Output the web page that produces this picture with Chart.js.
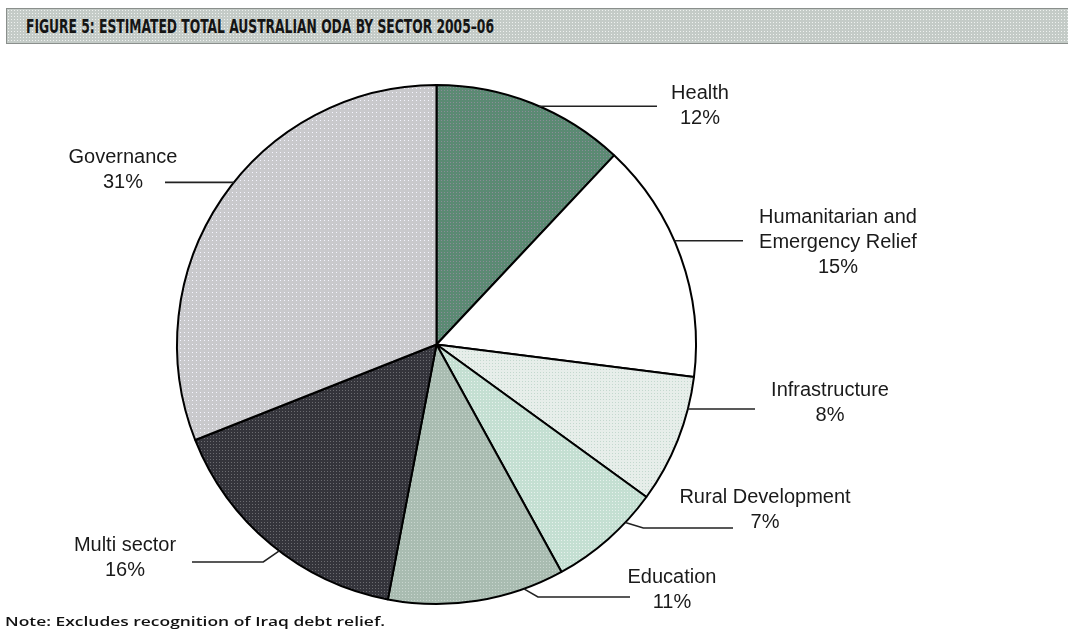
<!DOCTYPE html>
<html>
<head>
<meta charset="utf-8">
<title>Figure 5: Estimated total Australian ODA by sector 2005-06</title>
<script src="https://cdn.jsdelivr.net/npm/chart.js@4/dist/chart.umd.min.js"></script>
<style>
    html, body { margin: 0; padding: 0; background: #fff; }
    body { width: 1068px; height: 633px; position: relative; overflow: hidden; }
    #chart { position: absolute; left: 0; top: 0; }
    .title-bar {
        position: absolute; left: 6px; top: 8px; width: 1072px; height: 36px;
        box-sizing: border-box; border: 1px solid #8a8f8c;
        background-color: #c4cbc7;
        background-image: radial-gradient(#eef1ef 0.7px, transparent 0.9px);
        background-size: 3px 3px;
    }
    .title-text {
        position: absolute; left: 19px; top: 7px; white-space: nowrap; line-height: 20px;
        font-family: "Liberation Sans Narrow", "DejaVu Sans Condensed", "Liberation Sans", sans-serif;
        font-stretch: condensed; font-weight: bold; font-size: 20px; color: #141414;
        transform-origin: 0 50%;
    }
    .note {
        position: absolute; left: 5px; top: 612px; white-space: nowrap;
        font-family: "Open Sans", "Noto Sans", sans-serif; font-weight: 600;
        font-size: 13px; color: #111; transform-origin: 0 50%;
    }
</style>
</head>
<body>
<div class="title-bar"><span class="title-text" id="title">FIGURE 5: ESTIMATED TOTAL AUSTRALIAN ODA BY SECTOR 2005–06</span></div>
<canvas id="chart" width="1068" height="633"></canvas>
<div class="note" id="note">Note: Excludes recognition of Iraq debt relief.</div>

<script>
// Data (clockwise from 12 o'clock)
const categories = ['Health', ['Humanitarian and', 'Emergency Relief'], 'Infrastructure',
    'Rural Development', 'Education', 'Multi sector', 'Governance'];
const shares = [12, 15, 8, 7, 11, 16, 31];

// Label placement / leader line style (text centre, first line y, line end x, anchor fraction)
const labelStyle = [
    { x: 700, y: 93,  end: 657, frac: 0.54 },
    { x: 838, y: 217, end: 743, frac: 0.43 },
    { x: 830, y: 390, end: 755, frac: 0.25 },
    { x: 765, y: 497, end: 733, frac: 0.29, lineY: 528, elbow: 18 },
    { x: 672, y: 577, end: 630, frac: 0.23, lineY: 597, elbow: 14 },
    { x: 125, y: 545, end: 192, frac: 0.46, lineY: 562, elbow: -16 },
    { x: 123, y: 157, end: 165, frac: 0.54 }
];

// Fit a text element to a given pixel width
function fitWidth(id, width) {
    const el = document.getElementById(id);
    const w = el.getBoundingClientRect().width;
    if (w > 0) el.style.transform = 'scaleX(' + (width / w) + ')';
}
fitWidth('title', 468);
fitWidth('note', 380);

// Small dotted fill like the printed figure
function dotPattern(ctx, base, dot, step) {
    const c = document.createElement('canvas');
    c.width = step; c.height = step;
    const g = c.getContext('2d');
    g.fillStyle = base;
    g.fillRect(0, 0, step, step);
    if (dot) {
        g.fillStyle = dot;
        g.fillRect(0, 0, 1, 1);
    }
    return ctx.createPattern(c, 'repeat');
}

const ctx = document.getElementById('chart').getContext('2d');
const fills = [
    dotPattern(ctx, '#5b8a73', '#8b8c98', 3),
    '#ffffff',
    dotPattern(ctx, '#e7eeea', '#c3d8ce', 3),
    dotPattern(ctx, '#c4dfd2', '#e6f1ec', 3),
    dotPattern(ctx, '#a9bcb1', '#c8d5ce', 3),
    dotPattern(ctx, '#34343b', '#6b6b70', 3),
    dotPattern(ctx, '#c9c9cc', '#f5f5ff', 4)
];

// Draw labels with leader lines from the arc elements
const leaderLabels = {
    id: 'leaderLabels',
    afterDraw(chart) {
        const c = chart.ctx;
        const arcs = chart.getDatasetMeta(0).data;
        c.save();
        c.font = '20px "Liberation Sans", Arial, sans-serif';
        c.fillStyle = '#1a1a1a';
        c.textAlign = 'center';
        c.textBaseline = 'middle';
        arcs.forEach((arc, i) => {
            const s = labelStyle[i];
            const p = arc.getProps(['x', 'y', 'startAngle', 'endAngle', 'outerRadius'], true);
            const a = p.startAngle + (p.endAngle - p.startAngle) * s.frac;
            const ax = p.x + Math.cos(a) * p.outerRadius;
            const ay = p.y + Math.sin(a) * p.outerRadius;

            c.strokeStyle = '#222';
            c.lineWidth = 1.6;
            c.beginPath();
            c.moveTo(ax, ay);
            if (s.lineY !== undefined) {
                c.lineTo(ax + s.elbow, s.lineY);
                c.lineTo(s.end, s.lineY);
            } else {
                c.lineTo(s.end, ay);
            }
            c.stroke();

            const name = categories[i];
            const lines = (Array.isArray(name) ? name : [name]).concat([shares[i] + '%']);
            lines.forEach((t, k) => c.fillText(t, s.x, s.y + k * 25));
        });
        c.restore();
    }
};

new Chart(ctx, {
    type: 'pie',
    data: {
        labels: categories,
        datasets: [{
            data: shares,
            backgroundColor: fills,
            borderColor: '#000',
            borderWidth: 2
        }]
    },
    options: {
        responsive: false,
        animation: false,
        layout: { padding: { left: 176, top: 84, right: 371, bottom: 28 } },
        plugins: {
            legend: { display: false },
            tooltip: { enabled: false },
            title: { display: false }
        }
    },
    plugins: [leaderLabels]
});
</script>
</body>
</html>
